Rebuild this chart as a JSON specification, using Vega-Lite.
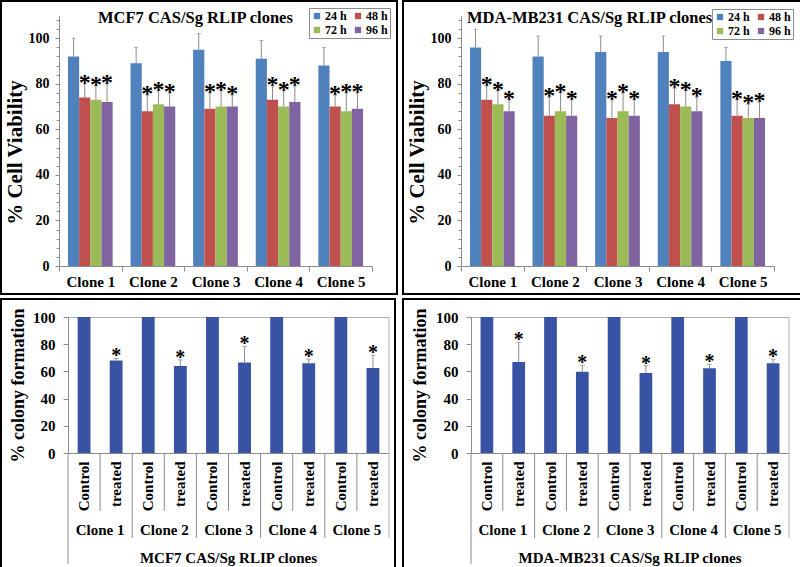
{
  "$schema": "https://vega.github.io/schema/vega-lite/v6.json",
  "padding": 0,
  "background": "white",
  "bounds": "flush",
  "columns": 2,
  "spacing": {"row": 5, "column": 6},
  "config": {
    "font": "Liberation Serif",
    "view": {"stroke": "#000", "strokeWidth": 2},
    "axis": {"labelFont": "Liberation Serif", "labelFontWeight": "bold", "labelColor": "#000", "titleFont": "Liberation Serif", "titleFontWeight": "bold", "titleColor": "#000", "domainColor": "#8c8c8c", "tickColor": "#8c8c8c", "grid": false},
    "legend": {"labelFont": "Liberation Serif", "labelFontWeight": "bold", "labelFontSize": 12, "labelColor": "#000", "symbolType": "square", "symbolSize": 40, "symbolStrokeWidth": 0, "strokeColor": "#8c8c8c", "fillColor": "white", "padding": 2, "rowPadding": 2, "columnPadding": 5, "labelOffset": 2},
    "title": {"font": "Liberation Serif", "fontWeight": "bold", "fontSize": 16.5, "color": "#000", "anchor": "start", "frame": "group"}
  },
  "datasets": {
    "mcf7v": [
      {"clone": "Clone 1", "time": "24 h", "v": 92, "e": 100, "star": ""},
      {"clone": "Clone 1", "time": "48 h", "v": 74, "e": 80, "star": "*"},
      {"clone": "Clone 1", "time": "72 h", "v": 73, "e": 79, "star": "*"},
      {"clone": "Clone 1", "time": "96 h", "v": 72, "e": 80, "star": "*"},
      {"clone": "Clone 2", "time": "24 h", "v": 89, "e": 96, "star": ""},
      {"clone": "Clone 2", "time": "48 h", "v": 68, "e": 75, "star": "*"},
      {"clone": "Clone 2", "time": "72 h", "v": 71, "e": 77, "star": "*"},
      {"clone": "Clone 2", "time": "96 h", "v": 70, "e": 76, "star": "*"},
      {"clone": "Clone 3", "time": "24 h", "v": 95, "e": 102, "star": ""},
      {"clone": "Clone 3", "time": "48 h", "v": 69, "e": 76, "star": "*"},
      {"clone": "Clone 3", "time": "72 h", "v": 70, "e": 77, "star": "*"},
      {"clone": "Clone 3", "time": "96 h", "v": 70, "e": 75, "star": "*"},
      {"clone": "Clone 4", "time": "24 h", "v": 91, "e": 99, "star": ""},
      {"clone": "Clone 4", "time": "48 h", "v": 73, "e": 79, "star": "*"},
      {"clone": "Clone 4", "time": "72 h", "v": 70, "e": 77, "star": "*"},
      {"clone": "Clone 4", "time": "96 h", "v": 72, "e": 79, "star": "*"},
      {"clone": "Clone 5", "time": "24 h", "v": 88, "e": 96, "star": ""},
      {"clone": "Clone 5", "time": "48 h", "v": 70, "e": 75, "star": "*"},
      {"clone": "Clone 5", "time": "72 h", "v": 68, "e": 76, "star": "*"},
      {"clone": "Clone 5", "time": "96 h", "v": 69, "e": 76, "star": "*"}
    ],
    "mdav": [
      {"clone": "Clone 1", "time": "24 h", "v": 96, "e": 104, "star": ""},
      {"clone": "Clone 1", "time": "48 h", "v": 73, "e": 79, "star": "*"},
      {"clone": "Clone 1", "time": "72 h", "v": 71, "e": 77, "star": "*"},
      {"clone": "Clone 1", "time": "96 h", "v": 68, "e": 73, "star": "*"},
      {"clone": "Clone 2", "time": "24 h", "v": 92, "e": 101, "star": ""},
      {"clone": "Clone 2", "time": "48 h", "v": 66, "e": 74, "star": "*"},
      {"clone": "Clone 2", "time": "72 h", "v": 68, "e": 76, "star": "*"},
      {"clone": "Clone 2", "time": "96 h", "v": 66, "e": 73, "star": "*"},
      {"clone": "Clone 3", "time": "24 h", "v": 94, "e": 101, "star": ""},
      {"clone": "Clone 3", "time": "48 h", "v": 65, "e": 73, "star": "*"},
      {"clone": "Clone 3", "time": "72 h", "v": 68, "e": 76, "star": "*"},
      {"clone": "Clone 3", "time": "96 h", "v": 66, "e": 73, "star": "*"},
      {"clone": "Clone 4", "time": "24 h", "v": 94, "e": 101, "star": ""},
      {"clone": "Clone 4", "time": "48 h", "v": 71, "e": 78, "star": "*"},
      {"clone": "Clone 4", "time": "72 h", "v": 70, "e": 77, "star": "*"},
      {"clone": "Clone 4", "time": "96 h", "v": 68, "e": 74, "star": "*"},
      {"clone": "Clone 5", "time": "24 h", "v": 90, "e": 96, "star": ""},
      {"clone": "Clone 5", "time": "48 h", "v": 66, "e": 73, "star": "*"},
      {"clone": "Clone 5", "time": "72 h", "v": 65, "e": 71, "star": "*"},
      {"clone": "Clone 5", "time": "96 h", "v": 65, "e": 72, "star": "*"}
    ],
    "mcf7c": [
      {"cat": "Clone 1|Control", "v": 100, "e": null, "star": ""},
      {"cat": "Clone 1|treated", "v": 68, "e": 69.5, "star": "*"},
      {"cat": "Clone 2|Control", "v": 100, "e": null, "star": ""},
      {"cat": "Clone 2|treated", "v": 64, "e": 68.5, "star": "*"},
      {"cat": "Clone 3|Control", "v": 100, "e": null, "star": ""},
      {"cat": "Clone 3|treated", "v": 66.5, "e": 78.5, "star": "*"},
      {"cat": "Clone 4|Control", "v": 100, "e": null, "star": ""},
      {"cat": "Clone 4|treated", "v": 66, "e": 69, "star": "*"},
      {"cat": "Clone 5|Control", "v": 100, "e": null, "star": ""},
      {"cat": "Clone 5|treated", "v": 62.5, "e": 72, "star": "*"}
    ],
    "mdac": [
      {"cat": "Clone 1|Control", "v": 100, "e": null, "star": ""},
      {"cat": "Clone 1|treated", "v": 67, "e": 81.5, "star": "*"},
      {"cat": "Clone 2|Control", "v": 100, "e": null, "star": ""},
      {"cat": "Clone 2|treated", "v": 59.8, "e": 64.5, "star": "*"},
      {"cat": "Clone 3|Control", "v": 100, "e": null, "star": ""},
      {"cat": "Clone 3|treated", "v": 58.8, "e": 64.3, "star": "*"},
      {"cat": "Clone 4|Control", "v": 100, "e": null, "star": ""},
      {"cat": "Clone 4|treated", "v": 62.3, "e": 65.3, "star": "*"},
      {"cat": "Clone 5|Control", "v": 100, "e": null, "star": ""},
      {"cat": "Clone 5|treated", "v": 66, "e": 69, "star": "*"}
    ],
    "treatedSep": [
      {"cat": "Clone 1|treated"}, {"cat": "Clone 2|treated"}, {"cat": "Clone 3|treated"}, {"cat": "Clone 4|treated"}, {"cat": "Clone 5|treated"}
    ],
    "cloneSep": [
      {"cat": "Clone 2|Control"}, {"cat": "Clone 3|Control"}, {"cat": "Clone 4|Control"}, {"cat": "Clone 5|Control"}
    ],
    "firstCat": [{"cat": "Clone 1|Control"}],
    "lastCat": [{"cat": "Clone 5|treated"}],
    "cloneLab": [
      {"cat": "Clone 1|treated", "label": "Clone 1"},
      {"cat": "Clone 2|treated", "label": "Clone 2"},
      {"cat": "Clone 3|treated", "label": "Clone 3"},
      {"cat": "Clone 4|treated", "label": "Clone 4"},
      {"cat": "Clone 5|treated", "label": "Clone 5"}
    ],
    "mcf7Title": [{"cat": "Clone 3|treated", "label": "MCF7 CAS/Sg RLIP clones"}],
    "mdaTitle": [{"cat": "Clone 3|treated", "label": "MDA-MB231 CAS/Sg RLIP clones"}]
  },
  "resolve": {"scale": {"color": "independent", "x": "independent", "y": "independent", "xOffset": "independent"}, "legend": {"color": "independent"}},
  "concat": [
    {
      "width": 396, "height": 293,
      "title": {"text": "MCF7 CAS/Sg RLIP clones", "offset": -25, "dx": 97},
      "data": {"name": "mcf7v"},
      "resolve": {"axis": {"x": "independent", "y": "independent"}},
      "layer": [
        {
          "mark": {"type": "bar"},
          "encoding": {
            "x": {"field": "clone", "type": "nominal", "scale": {"range": [58, 371], "paddingInner": 0, "paddingOuter": 0}, "axis": {"title": null, "labelAngle": 0, "tickBand": "extent", "tickSize": 5, "labelFontSize": 15, "labelPadding": 3, "offset": -28}},
            "xOffset": {"field": "time", "type": "nominal", "scale": {"paddingInner": 0, "paddingOuter": 0.8}},
            "y": {"field": "v", "type": "quantitative", "scale": {"domain": [0, 110], "range": [265, 14.5], "nice": false}, "axis": {"orient": "left", "title": "% Cell Viability", "values": [0, 20, 40, 60, 80, 100], "offset": -58, "tickSize": 4, "labelPadding": 6, "labelFontSize": 14, "titleFontSize": 21, "titlePadding": 3, "titleY": 151}},
            "color": {"field": "time", "type": "nominal", "sort": ["24 h", "72 h", "48 h", "96 h"], "scale": {"range": ["#4F81BD", "#9BBB59", "#C0504D", "#8064A2"]}, "legend": {"title": null, "orient": "top-right", "offset": 7, "columns": 2}}
          }
        },
        {
          "mark": {"type": "rule", "color": "#8c8c8c", "strokeWidth": 1},
          "encoding": {
            "x": {"field": "clone", "type": "nominal", "axis": null},
            "xOffset": {"field": "time", "type": "nominal"},
            "y": {"field": "v", "type": "quantitative", "axis": {"orient": "left", "title": null, "labels": false, "domain": false, "tickSize": 3, "offset": -58, "values": [4, 8, 12, 16, 24, 28, 32, 36, 44, 48, 52, 56, 64, 68, 72, 76, 84, 88, 92, 96, 104, 108]}},
            "y2": {"field": "e"}
          }
        },
        {
          "mark": {"type": "tick", "color": "#8c8c8c", "thickness": 1, "size": 4, "orient": "horizontal"},
          "encoding": {
            "x": {"field": "clone", "type": "nominal", "axis": null},
            "xOffset": {"field": "time", "type": "nominal"},
            "y": {"field": "e", "type": "quantitative", "axis": null}
          }
        },
        {
          "mark": {"type": "text", "fontSize": 24, "fontWeight": "bold", "baseline": "alphabetic", "dy": 6, "color": "#000"},
          "encoding": {
            "x": {"field": "clone", "type": "nominal", "axis": null},
            "xOffset": {"field": "time", "type": "nominal"},
            "y": {"field": "e", "type": "quantitative", "axis": null},
            "text": {"field": "star"}
          }
        }
      ]
    },
    {
      "width": 398, "height": 293,
      "title": {"text": "MDA-MB231 CAS/Sg RLIP clones", "offset": -25, "dx": 64},
      "data": {"name": "mdav"},
      "resolve": {"axis": {"x": "independent", "y": "independent"}},
      "layer": [
        {
          "mark": {"type": "bar"},
          "encoding": {
            "x": {"field": "clone", "type": "nominal", "scale": {"range": [58, 371], "paddingInner": 0, "paddingOuter": 0}, "axis": {"title": null, "labelAngle": 0, "tickBand": "extent", "tickSize": 5, "labelFontSize": 15, "labelPadding": 3, "offset": -28}},
            "xOffset": {"field": "time", "type": "nominal", "scale": {"paddingInner": 0, "paddingOuter": 0.8}},
            "y": {"field": "v", "type": "quantitative", "scale": {"domain": [0, 110], "range": [265, 14.5], "nice": false}, "axis": {"orient": "left", "title": "% Cell Viability", "values": [0, 20, 40, 60, 80, 100], "offset": -58, "tickSize": 4, "labelPadding": 6, "labelFontSize": 14, "titleFontSize": 21, "titlePadding": 3, "titleY": 151}},
            "color": {"field": "time", "type": "nominal", "sort": ["24 h", "72 h", "48 h", "96 h"], "scale": {"range": ["#4F81BD", "#9BBB59", "#C0504D", "#8064A2"]}, "legend": {"title": null, "orient": "top-right", "offset": 8, "columns": 2}}
          }
        },
        {
          "mark": {"type": "rule", "color": "#8c8c8c", "strokeWidth": 1},
          "encoding": {
            "x": {"field": "clone", "type": "nominal", "axis": null},
            "xOffset": {"field": "time", "type": "nominal"},
            "y": {"field": "v", "type": "quantitative", "axis": {"orient": "left", "title": null, "labels": false, "domain": false, "tickSize": 3, "offset": -58, "values": [4, 8, 12, 16, 24, 28, 32, 36, 44, 48, 52, 56, 64, 68, 72, 76, 84, 88, 92, 96, 104, 108]}},
            "y2": {"field": "e"}
          }
        },
        {
          "mark": {"type": "tick", "color": "#8c8c8c", "thickness": 1, "size": 4, "orient": "horizontal"},
          "encoding": {
            "x": {"field": "clone", "type": "nominal", "axis": null},
            "xOffset": {"field": "time", "type": "nominal"},
            "y": {"field": "e", "type": "quantitative", "axis": null}
          }
        },
        {
          "mark": {"type": "text", "fontSize": 24, "fontWeight": "bold", "baseline": "alphabetic", "dy": 6, "color": "#000"},
          "encoding": {
            "x": {"field": "clone", "type": "nominal", "axis": null},
            "xOffset": {"field": "time", "type": "nominal"},
            "y": {"field": "e", "type": "quantitative", "axis": null},
            "text": {"field": "star"}
          }
        }
      ]
    },
    {
      "width": 394, "height": 269,
      "resolve": {"axis": {"x": "independent"}},
      "layer": [
        {
          "data": {"name": "mcf7c"},
          "mark": {"type": "bar", "width": {"band": 0.4}, "color": "#3953A4"},
          "encoding": {
            "x": {"field": "cat", "type": "nominal", "scale": {"range": [67, 388], "paddingInner": 0, "paddingOuter": 0}, "axis": {"title": null, "labelAngle": -90, "labelExpr": "split(datum.label, '|')[1]", "ticks": false, "labelPadding": 8, "labelFontSize": 15, "offset": -115}},
            "y": {"field": "v", "type": "quantitative", "scale": {"domain": [0, 100], "range": [154, 18], "nice": false}, "axis": {"title": "% colony formation", "values": [0, 20, 40, 60, 80, 100], "offset": -67, "tickSize": 5, "labelPadding": 8, "labelFontSize": 15, "titleFontSize": 18, "titlePadding": 5}}
          }
        },
        {
          "data": {"name": "mcf7c"},
          "transform": [{"filter": "datum.e != null"}],
          "mark": {"type": "rule", "color": "#8c8c8c"},
          "encoding": {
            "x": {"field": "cat", "type": "nominal", "axis": {"orient": "top", "title": null, "labels": false, "ticks": false, "domainColor": "#b0b0b0", "offset": -18}},
            "y": {"field": "v", "type": "quantitative"},
            "y2": {"field": "e"}
          }
        },
        {
          "data": {"name": "mcf7c"},
          "transform": [{"filter": "datum.e != null"}],
          "mark": {"type": "tick", "color": "#8c8c8c", "thickness": 1, "size": 5, "orient": "horizontal"},
          "encoding": {
            "x": {"field": "cat", "type": "nominal", "axis": null},
            "y": {"field": "e", "type": "quantitative"}
          }
        },
        {
          "data": {"name": "mcf7c"},
          "mark": {"type": "text", "fontSize": 20, "fontWeight": "bold", "baseline": "alphabetic", "dy": 4, "color": "#000"},
          "encoding": {
            "x": {"field": "cat", "type": "nominal", "axis": null},
            "y": {"field": "e", "type": "quantitative"},
            "text": {"field": "star"}
          }
        },
        {
          "data": {"name": "treatedSep"},
          "mark": {"type": "rule", "color": "#8c8c8c"},
          "encoding": {
            "x": {"field": "cat", "type": "nominal", "bandPosition": 0, "axis": null},
            "y": {"datum": 0},
            "y2": {"datum": -42.6}
          }
        },
        {
          "data": {"name": "cloneSep"},
          "mark": {"type": "rule", "color": "#8c8c8c"},
          "encoding": {
            "x": {"field": "cat", "type": "nominal", "bandPosition": 0, "axis": null},
            "y": {"datum": 0},
            "y2": {"datum": -62.5}
          }
        },
        {
          "data": {"name": "firstCat"},
          "mark": {"type": "rule", "color": "#8c8c8c"},
          "encoding": {
            "x": {"field": "cat", "type": "nominal", "bandPosition": 0, "axis": null},
            "y": {"datum": 0},
            "y2": {"datum": -81.6}
          }
        },
        {
          "data": {"name": "lastCat"},
          "mark": {"type": "rule", "color": "#b0b0b0"},
          "encoding": {
            "x": {"field": "cat", "type": "nominal", "bandPosition": 1, "axis": null},
            "y": {"datum": 100},
            "y2": {"datum": -62.5}
          }
        },
        {
          "data": {"name": "cloneLab"},
          "mark": {"type": "text", "fontSize": 15, "fontWeight": "bold", "baseline": "middle", "color": "#000"},
          "encoding": {
            "x": {"field": "cat", "type": "nominal", "bandPosition": 0, "axis": null},
            "y": {"datum": -56.6},
            "text": {"field": "label"}
          }
        },
        {
          "data": {"name": "mcf7Title"},
          "mark": {"type": "text", "fontSize": 15, "fontWeight": "bold", "baseline": "middle", "color": "#000"},
          "encoding": {
            "x": {"field": "cat", "type": "nominal", "bandPosition": 0, "axis": null},
            "y": {"datum": -77.2},
            "text": {"field": "label"}
          }
        }
      ]
    },
    {
      "width": 398, "height": 269,
      "resolve": {"axis": {"x": "independent"}},
      "layer": [
        {
          "data": {"name": "mdac"},
          "mark": {"type": "bar", "width": {"band": 0.4}, "color": "#3953A4"},
          "encoding": {
            "x": {"field": "cat", "type": "nominal", "scale": {"range": [68, 386], "paddingInner": 0, "paddingOuter": 0}, "axis": {"title": null, "labelAngle": -90, "labelExpr": "split(datum.label, '|')[1]", "ticks": false, "labelPadding": 8, "labelFontSize": 15, "offset": -115}},
            "y": {"field": "v", "type": "quantitative", "scale": {"domain": [0, 100], "range": [154, 18], "nice": false}, "axis": {"title": "% colony formation", "values": [0, 20, 40, 60, 80, 100], "offset": -68, "tickSize": 5, "labelPadding": 8, "labelFontSize": 15, "titleFontSize": 18, "titlePadding": 6}}
          }
        },
        {
          "data": {"name": "mdac"},
          "transform": [{"filter": "datum.e != null"}],
          "mark": {"type": "rule", "color": "#8c8c8c"},
          "encoding": {
            "x": {"field": "cat", "type": "nominal", "axis": {"orient": "top", "title": null, "labels": false, "ticks": false, "domainColor": "#b0b0b0", "offset": -18}},
            "y": {"field": "v", "type": "quantitative"},
            "y2": {"field": "e"}
          }
        },
        {
          "data": {"name": "mdac"},
          "transform": [{"filter": "datum.e != null"}],
          "mark": {"type": "tick", "color": "#8c8c8c", "thickness": 1, "size": 5, "orient": "horizontal"},
          "encoding": {
            "x": {"field": "cat", "type": "nominal", "axis": null},
            "y": {"field": "e", "type": "quantitative"}
          }
        },
        {
          "data": {"name": "mdac"},
          "mark": {"type": "text", "fontSize": 20, "fontWeight": "bold", "baseline": "alphabetic", "dy": 4, "color": "#000"},
          "encoding": {
            "x": {"field": "cat", "type": "nominal", "axis": null},
            "y": {"field": "e", "type": "quantitative"},
            "text": {"field": "star"}
          }
        },
        {
          "data": {"name": "treatedSep"},
          "mark": {"type": "rule", "color": "#8c8c8c"},
          "encoding": {
            "x": {"field": "cat", "type": "nominal", "bandPosition": 0, "axis": null},
            "y": {"datum": 0},
            "y2": {"datum": -42.6}
          }
        },
        {
          "data": {"name": "cloneSep"},
          "mark": {"type": "rule", "color": "#8c8c8c"},
          "encoding": {
            "x": {"field": "cat", "type": "nominal", "bandPosition": 0, "axis": null},
            "y": {"datum": 0},
            "y2": {"datum": -62.5}
          }
        },
        {
          "data": {"name": "firstCat"},
          "mark": {"type": "rule", "color": "#8c8c8c"},
          "encoding": {
            "x": {"field": "cat", "type": "nominal", "bandPosition": 0, "axis": null},
            "y": {"datum": 0},
            "y2": {"datum": -81.6}
          }
        },
        {
          "data": {"name": "lastCat"},
          "mark": {"type": "rule", "color": "#b0b0b0"},
          "encoding": {
            "x": {"field": "cat", "type": "nominal", "bandPosition": 1, "axis": null},
            "y": {"datum": 100},
            "y2": {"datum": -62.5}
          }
        },
        {
          "data": {"name": "cloneLab"},
          "mark": {"type": "text", "fontSize": 15, "fontWeight": "bold", "baseline": "middle", "color": "#000"},
          "encoding": {
            "x": {"field": "cat", "type": "nominal", "bandPosition": 0, "axis": null},
            "y": {"datum": -56.6},
            "text": {"field": "label"}
          }
        },
        {
          "data": {"name": "mdaTitle"},
          "mark": {"type": "text", "fontSize": 15, "fontWeight": "bold", "baseline": "middle", "color": "#000"},
          "encoding": {
            "x": {"field": "cat", "type": "nominal", "bandPosition": 0, "axis": null},
            "y": {"datum": -77.2},
            "text": {"field": "label"}
          }
        }
      ]
    }
  ]
}
